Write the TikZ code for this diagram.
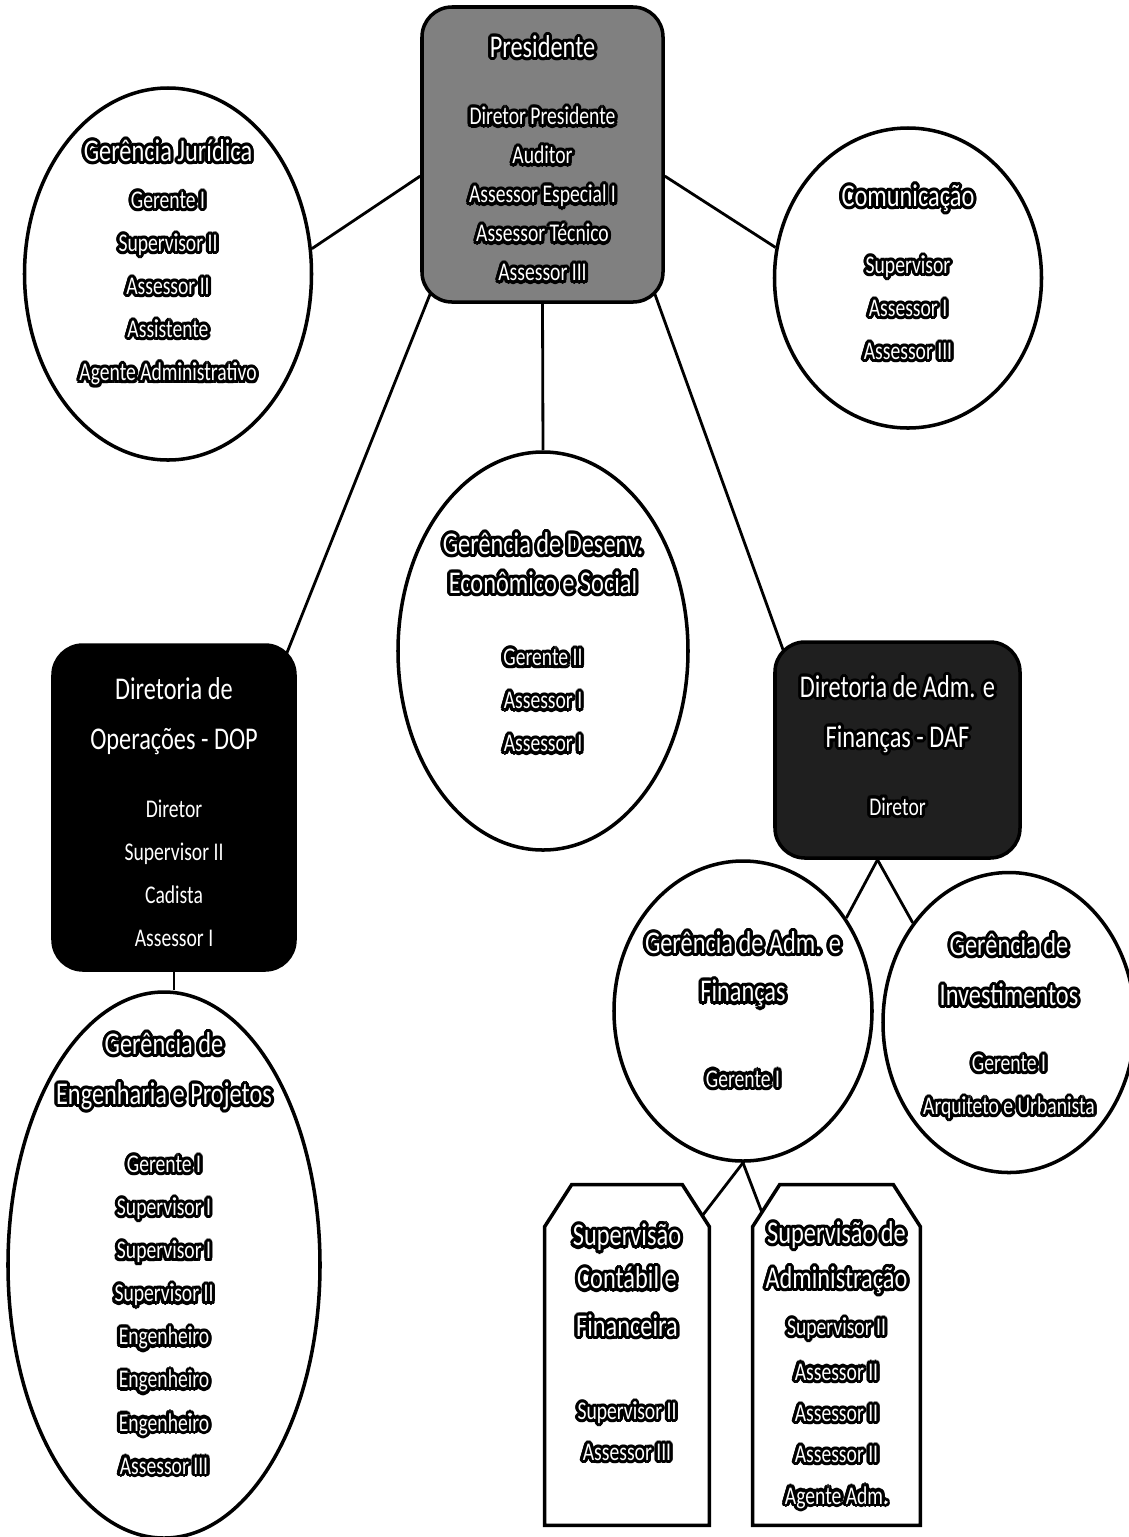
\documentclass[tikz,border=0pt]{standalone}
\usepackage{fontspec}
\setmainfont{Carlito}[FakeStretch=0.77]
\usepackage{contour}
\contourlength{1.8pt}
\usetikzlibrary{shapes.geometric}

\newcommand{\halo}[1]{\contour{black}{#1}}
\newcommand{\ttl}[1]{{\fontsize{18}{24.5}\selectfont\halo{#1}}}

\begin{document}
\begin{tikzpicture}[x=0.2mm, y=-0.2mm,
    unit/.style={ellipse, draw, line width=2pt, fill=white, inner sep=0pt},
    board/.style={rectangle, rounded corners=6mm, draw, line width=2pt, fill=black, inner sep=0pt},
    supbox/.style={rectangle, inner sep=0pt},
    frame/.style={line width=2pt, fill=white},
    roles/.style={align=center, text=white, font=\fontsize{14.5}{24.5}\selectfont},
    link/.style={line width=1.6pt}]
    \useasboundingbox (0,0) rectangle (1128,1537);
    % Presidency
    \node[board, fill=black!50, minimum width=48.2mm, minimum height=59mm] (pres) at (542.5,154.5) {};
    \node[roles, yshift=-1.1mm, font=\fontsize{14.5}{22.2}\selectfont] (pres-txt) at (pres)
        {\ttl{Presidente}\\[16pt] \halo{Diretor Presidente}\\ \halo{Auditor}\\ \halo{Assessor Especial I}\\ \halo{Assessor Técnico}\\ \halo{Assessor III}};
    % Staff units
    \node[unit, minimum width=57.4mm, minimum height=74.4mm] (jur) at (168,274) {};
    \node[roles, yshift=2mm] (jur-txt) at (jur)
        {\ttl{Gerência Jurídica}\\[2.2pt] \halo{Gerente I}\\ \halo{Supervisor II}\\ \halo{Assessor II}\\ \halo{Assistente}\\ \halo{Agente Administrativo}};
    \node[unit, minimum width=53.4mm, minimum height=60mm] (com) at (908,278) {};
    \node[roles, yshift=0.8mm] (com-txt) at (com)
        {\ttl{Comunicação}\\[13.6pt] \halo{Supervisor}\\ \halo{Assessor I}\\ \halo{Assessor III}};
    \node[unit, minimum width=58mm, minimum height=79.6mm] (desenv) at (543,651) {};
    \node[roles, yshift=1.4mm] (desenv-txt) at (desenv)
        {\ttl{Gerência de Desenv.}\\[-2.3pt] \ttl{Econômico e Social}\\[16.5pt] \halo{Gerente II}\\ \halo{Assessor I}\\ \halo{Assessor I}};
    % Directorates
    \node[board, minimum width=48.4mm, minimum height=65mm] (dop) at (174,807.5) {};
    \node[roles, yshift=-1.3mm] (dop-txt) at (dop)
        {\ttl{Diretoria de}\\[4pt] \ttl{Operações - DOP}\\[14pt] \halo{Diretor}\\ \halo{Supervisor II}\\ \halo{Cadista}\\ \halo{Assessor I}};
    \node[board, fill=black!88, minimum width=49mm, minimum height=43.2mm] (daf) at (897.5,750) {};
    \node[roles, yshift=0.6mm] (daf-txt) at (daf)
        {\ttl{Diretoria de Adm. e}\\[4pt] \ttl{Finanças - DAF}\\[14pt] \halo{Diretor}};
    % Managements under the directorates
    \node[unit, minimum width=62.4mm, minimum height=109.2mm] (eng) at (164,1265) {};
    \node[roles, yshift=2mm] (eng-txt) at (eng)
        {\ttl{Gerência de}\\[4pt] \ttl{Engenharia e Projetos}\\[14.2pt] \halo{Gerente I}\\ \halo{Supervisor I}\\ \halo{Supervisor I}\\ \halo{Supervisor II}\\ \halo{Engenheiro}\\ \halo{Engenheiro}\\ \halo{Engenheiro}\\ \halo{Assessor III}};
    \node[unit, minimum width=51.6mm, minimum height=60mm] (gaf) at (743,1011) {};
    \node[roles] (gaf-txt) at (gaf)
        {\ttl{Gerência de Adm. e}\\[3pt] \ttl{Finanças}\\[24pt] \halo{Gerente I}};
    \node[unit, minimum width=50.4mm, minimum height=60mm] (ginv) at (1009,1022.5) {};
    \node[roles, yshift=-1mm] (ginv-txt) at (ginv)
        {\ttl{Gerência de}\\[4pt] \ttl{Investimentos}\\[13pt] \halo{Gerente I}\\ \halo{Arquiteto e Urbanista}};
    % Supervisions
    \node[supbox, minimum width=32.8mm, minimum height=68mm] (supc) at (627,1355) {};
    \draw[frame] (supc.south west) -- ([yshift=-8.4mm]supc.north west) -- ([xshift=5.4mm]supc.north west)
        -- ([xshift=-5.4mm]supc.north east) -- ([yshift=-8.4mm]supc.north east) -- (supc.south east) -- cycle;
    \node[roles, yshift=2.2mm, font=\fontsize{14.5}{23.5}\selectfont] (supc-txt) at (supc)
        {\ttl{Supervisão}\\[1pt] \ttl{Contábil e}\\[3.5pt] \ttl{Financeira}\\[23.7pt] \halo{Supervisor II}\\ \halo{Assessor III}};
    \node[supbox, minimum width=33.4mm, minimum height=68mm] (supa) at (836.5,1355) {};
    \draw[frame] (supa.south west) -- ([yshift=-8.4mm]supa.north west) -- ([xshift=5.4mm]supa.north west)
        -- ([xshift=-5.4mm]supa.north east) -- ([yshift=-8.4mm]supa.north east) -- (supa.south east) -- cycle;
    \node[roles, yshift=-2.3mm, font=\fontsize{14.5}{23.5}\selectfont] (supa-txt) at (supa)
        {\ttl{Supervisão de}\\[2pt] \ttl{Administração}\\[3.3pt] \halo{Supervisor II}\\[2pt] \halo{Assessor II}\\ \halo{Assessor II}\\ \halo{Assessor II}\\ \halo{Agente Adm.}};
    % Links
    \draw[link] (pres.190) -- (jur.10);
    \draw[link] (pres.350) -- (com.167);
    \draw[link] (pres.south) -- (desenv.north);
    \draw[link] ([shift={(10,-10)}]pres.south west) -- ([shift={(-10,10)}]dop.north east);
    \draw[link] ([shift={(-10,-10)}]pres.south east) -- ([shift={(10,10)}]daf.north west);
    \draw[link] (dop.south) -- (dop.south |- eng.north);
    \draw[link] ([xshift=-4mm]daf.south) -- (gaf.42);
    \draw[link] ([xshift=-4mm]daf.south) -- (ginv.134);
    \draw[link] (gaf.south) -- ([shift={(-7,31)}]supc.north east);
    \draw[link] (gaf.south) -- ([shift={(9,27)}]supa.north west);
\end{tikzpicture}
\end{document}
